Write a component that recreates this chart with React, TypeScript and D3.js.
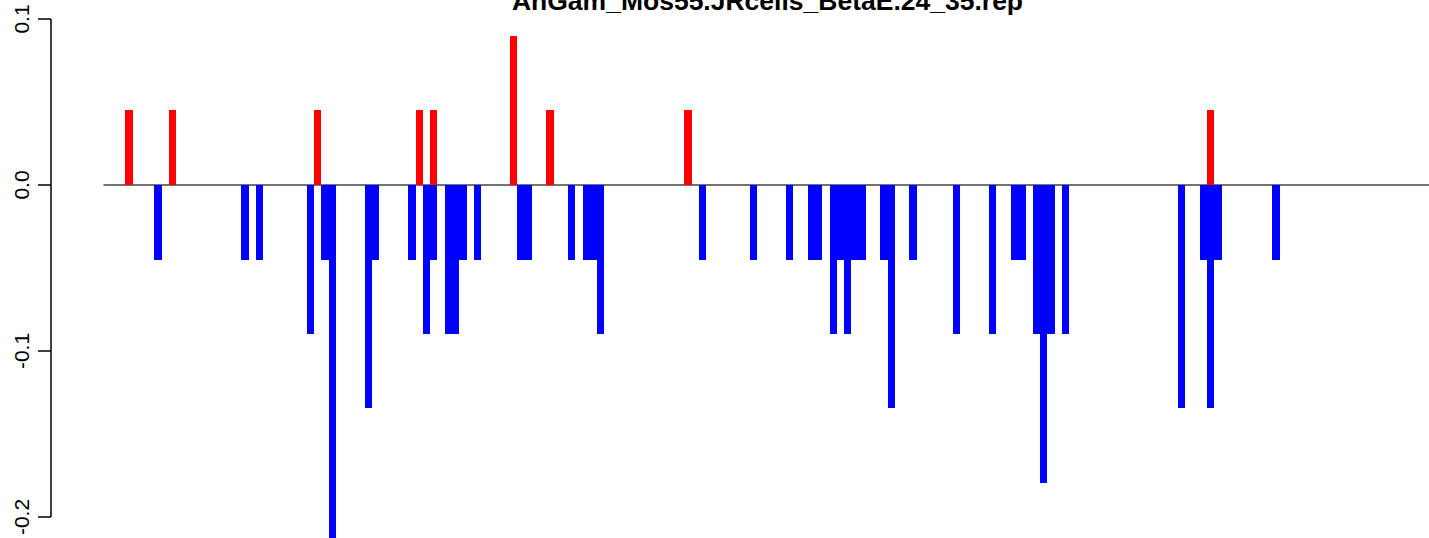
import React from "react";
import * as d3 from "d3";

const title = "AnGam_Mos55.JRcells_BetaE.24_35.rep";
const yTicks = [0.1, 0.0, -0.1, -0.2];
const yTickLabels = ["0.1", "0.0", "-0.1", "-0.2"];
const barCount = 186;

const redPositions = [3, 9, 29, 43, 45, 56, 61, 80, 152];
const redValues = [0.0449, 0.0449, 0.0449, 0.0449, 0.0449, 0.0898, 0.0449, 0.0449, 0.0449];

const bluePositions = [
  7, 19, 21, 28, 30, 31, 36, 37, 42, 44, 45, 47, 48, 49, 51, 57, 58, 64, 66, 67, 68,
  82, 89, 94, 97, 98, 100, 101, 102, 103, 104, 107, 108, 111, 117, 122, 125, 126,
  128, 129, 130, 132, 148, 151, 152, 153, 161,
];
const blueValues = [
  -0.0449, -0.0449, -0.0449, -0.0898, -0.0449, -0.2244, -0.1346, -0.0449, -0.0449, -0.0898, -0.0449, -0.0898, -0.0898, -0.0449, -0.0449, -0.0449, -0.0449, -0.0449, -0.0449, -0.0449, -0.0898,
  -0.0449, -0.0449, -0.0449, -0.0449, -0.0449, -0.0898, -0.0449, -0.0898, -0.0449, -0.0449, -0.0449, -0.1346, -0.0449, -0.0898, -0.0898, -0.0449, -0.0449,
  -0.0898, -0.1795, -0.0898, -0.0898, -0.1346, -0.0449, -0.1346, -0.0449, -0.0449,
];

const W = 1429;
const H = 538;

export default function App() {
  const x = d3.scaleLinear().domain([0, barCount]).range([103.5, 103.5 + barCount * 7.26]);
  const y = d3.scaleLinear().domain([-0.2, 0.1]).range([517, 19]);
  const bw = x(1) - x(0);
  const font = "'Liberation Sans', Arial, Helvetica, sans-serif";

  return (
    <svg
      width={W}
      height={H}
      style={{ position: "absolute", left: 0, top: 0, display: "block", background: "#fff" }}
    >
      <text
        x={767.5}
        y={9.5}
        textAnchor="middle"
        fontFamily={font}
        fontWeight="bold"
        fontSize={26.5}
        fill="#000"
      >
        {title}
      </text>
      <line x1={x(0)} x2={x(barCount)} y1={y(0)} y2={y(0)} stroke="#444" strokeWidth={1.3} />
      {redPositions.map((p, i) => (
        <rect
          key={"r" + i}
          x={x(p)}
          width={bw}
          y={y(Math.max(0, redValues[i]))}
          height={Math.abs(y(redValues[i]) - y(0))}
          fill="#ff0000"
          shapeRendering="crispEdges"
        />
      ))}
      {bluePositions.map((p, i) => (
        <rect
          key={"b" + i}
          x={x(p)}
          width={bw}
          y={y(0)}
          height={Math.abs(y(blueValues[i]) - y(0))}
          fill="#0000ff"
          shapeRendering="crispEdges"
        />
      ))}
      <g>
        <line x1={51} x2={51} y1={y(0.1)} y2={y(-0.2)} stroke="#000" strokeWidth={1.5} />
        {yTicks.map((t, i) => (
          <g key={"t" + i}>
            <line x1={38} x2={51} y1={y(t)} y2={y(t)} stroke="#000" strokeWidth={1.5} />
            <text
              transform={`translate(28.5,${y(t)}) rotate(-90)`}
              textAnchor="middle"
              fontFamily={font}
              fontSize={21}
              fill="#000"
            >
              {yTickLabels[i]}
            </text>
          </g>
        ))}
      </g>
    </svg>
  );
}
